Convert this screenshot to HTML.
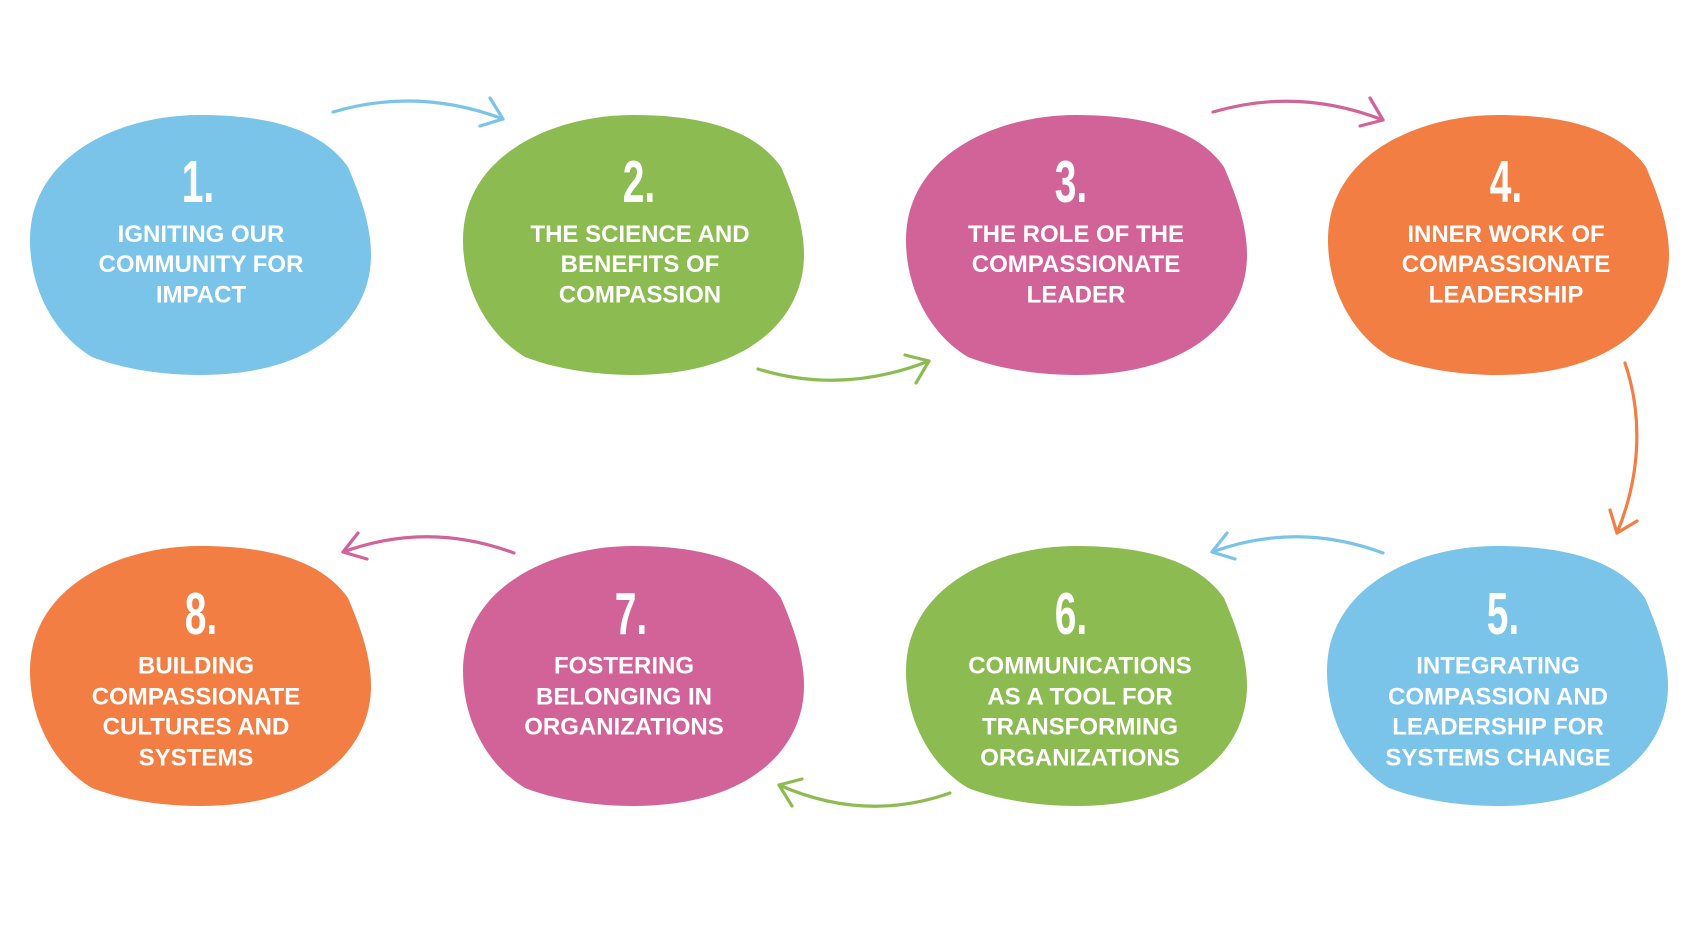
<!DOCTYPE html>
<html><head><meta charset="utf-8"><style>
html,body{margin:0;padding:0;background:#fff;}
svg{display:block;}
.n{font-family:"Liberation Sans Narrow","Liberation Sans",sans-serif;font-weight:bold;font-size:59px;fill:#fff;}
.t{font-family:"Liberation Sans",sans-serif;font-weight:bold;font-size:24px;fill:#fff;letter-spacing:0px;}
.a{fill:none;stroke-width:3.2;stroke-linecap:round;stroke-linejoin:round;}
</style></head><body>
<svg width="1701" height="925" viewBox="0 0 1701 925" xmlns="http://www.w3.org/2000/svg">
<defs>
<path id="b" d="M170,0 C240,0 292,15 318,52 C330,80 341,110 341,140 C341,200 290,260 170,260 C130,260 90,253 62,242 C25,220 0,175 0,125 C0,40 90,0 170,0 Z"/>
</defs>
<!-- blobs -->
<use href="#b" x="30" y="115" fill="#7AC3E9"/>
<use href="#b" x="463" y="115" fill="#8CBB52"/>
<use href="#b" x="906" y="115" fill="#D16399"/>
<use href="#b" x="1328" y="115" fill="#F27E44"/>
<use href="#b" x="30" y="546" fill="#F27E44"/>
<use href="#b" x="463" y="546" fill="#D16399"/>
<use href="#b" x="906" y="546" fill="#8CBB52"/>
<use href="#b" x="1327" y="546" fill="#7AC3E9"/>

<!-- arrows -->
<g class="a" stroke="#7AC3E9">
<path d="M333,112 Q418,87 503,119"/><path d="M490,98 L503,119 L480,126"/>
</g>
<g class="a" stroke="#8CBB52">
<path d="M758,369 Q842,395 929,361"/><path d="M905,355 L929,361 L916,383"/>
</g>
<g class="a" stroke="#D16399">
<path d="M1213,112 Q1298,87 1383,120"/><path d="M1370,98 L1383,120 L1360,126"/>
</g>
<g class="a" stroke="#F27E44">
<path d="M1625,363 C1641,410 1643,470 1617,533"/><path d="M1610,510 L1617,533 L1637,521"/>
</g>
<g class="a" stroke="#7AC3E9">
<path d="M1383,553 Q1297,521 1212,552"/><path d="M1227,533 L1212,552 L1235,559"/>
</g>
<g class="a" stroke="#8CBB52">
<path d="M950,793 Q865,823 779,785"/><path d="M802,779 L779,785 L792,806"/>
</g>
<g class="a" stroke="#D16399">
<path d="M514,553 Q428,521 343,552"/><path d="M358,533 L343,552 L367,559"/>
</g>

<!-- numbers -->
<g class="n" text-anchor="middle">
<text transform="translate(198,202) scale(0.66,1)">1.</text>
<text transform="translate(639,202) scale(0.66,1)">2.</text>
<text transform="translate(1071,202) scale(0.66,1)">3.</text>
<text transform="translate(1506,202) scale(0.66,1)">4.</text>
<text transform="translate(1503,634) scale(0.66,1)">5.</text>
<text transform="translate(1071,634) scale(0.66,1)">6.</text>
<text transform="translate(631,634) scale(0.66,1)">7.</text>
<text transform="translate(201,634) scale(0.66,1)">8.</text>
</g>

<!-- labels -->
<g class="t" text-anchor="middle">
<text x="201" y="242">IGNITING OUR</text>
<text x="201" y="272">COMMUNITY FOR</text>
<text x="201" y="302.5">IMPACT</text>

<text x="640" y="242">THE SCIENCE AND</text>
<text x="640" y="272">BENEFITS OF</text>
<text x="640" y="302.5">COMPASSION</text>

<text x="1076" y="242">THE ROLE OF THE</text>
<text x="1076" y="272">COMPASSIONATE</text>
<text x="1076" y="302.5">LEADER</text>

<text x="1506" y="242">INNER WORK OF</text>
<text x="1506" y="272">COMPASSIONATE</text>
<text x="1506" y="302.5">LEADERSHIP</text>

<text x="1498" y="673.5">INTEGRATING</text>
<text x="1498" y="704.5">COMPASSION AND</text>
<text x="1498" y="734.5">LEADERSHIP FOR</text>
<text x="1498" y="765.5">SYSTEMS CHANGE</text>

<text x="1080" y="673.5">COMMUNICATIONS</text>
<text x="1080" y="704.5">AS A TOOL FOR</text>
<text x="1080" y="734.5">TRANSFORMING</text>
<text x="1080" y="765.5">ORGANIZATIONS</text>

<text x="624" y="673.5">FOSTERING</text>
<text x="624" y="704.5">BELONGING IN</text>
<text x="624" y="734.5">ORGANIZATIONS</text>

<text x="196" y="673.5">BUILDING</text>
<text x="196" y="704.5">COMPASSIONATE</text>
<text x="196" y="734.5">CULTURES AND</text>
<text x="196" y="765.5">SYSTEMS</text>
</g>
</svg>
</body></html>
